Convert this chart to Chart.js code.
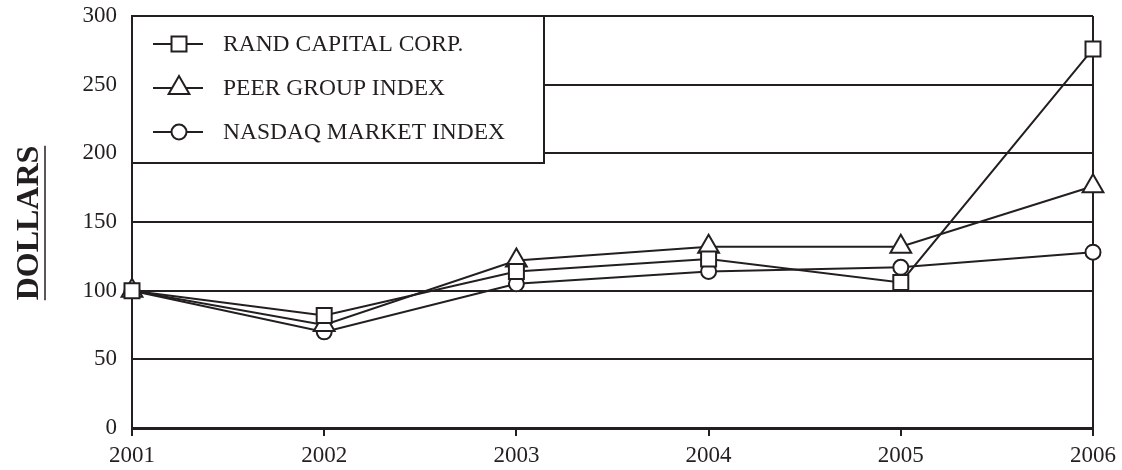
<!DOCTYPE html>
<html>
<head>
<meta charset="utf-8">
<script src="https://cdn.jsdelivr.net/npm/chart.js@4"></script>
<style>
  html, body { margin: 0; padding: 0; background: #fff; }
  #wrap { width: 1122px; height: 470px; }
</style>
</head>
<body>
<div id="wrap"><canvas id="grafico"></canvas></div>
<script>
var anos = ["2001", "2002", "2003", "2004", "2005", "2006"];
var rand = [100, 82, 114, 123, 106, 276];
var peer = [100, 75, 122, 132, 132, 176];
var nasdaq = [100, 70, 105, 114, 117, 128];
var nomes = ["RAND CAPITAL CORP.", "PEER GROUP INDEX", "NASDAQ MARKET INDEX"];

var cor = "#231f20";
var fonte = "'Liberation Serif', 'Times New Roman', serif";

// caixa da legenda e titulo do eixo y
var extras = {
  id: "extras",
  beforeDatasetsDraw: function (chart) {
    var c = chart.ctx;
    var a = chart.chartArea;
    var x0 = a.left, y0 = a.top, x1 = 544, y1 = 163;
    c.save();
    c.fillStyle = "#fff";
    c.fillRect(x0, y0, x1 - x0, y1 - y0);
    c.strokeStyle = cor;
    c.lineWidth = 2;
    c.strokeRect(x0, y0, x1 - x0, y1 - y0);

    var linhas = [44, 88, 132];
    for (var i = 0; i < chart.data.datasets.length; i++) {
      var ds = chart.data.datasets[i];
      var y = linhas[i];
      c.beginPath();
      c.moveTo(153, y);
      c.lineTo(203, y);
      c.strokeStyle = cor;
      c.lineWidth = 2;
      c.stroke();
      c.fillStyle = "#fff";
      Chart.helpers.drawPoint(c, {
        pointStyle: ds.pointStyle,
        radius: ds.pointRadius,
        borderWidth: 2
      }, 179, y);
      c.fillStyle = cor;
      c.font = "23.5px " + fonte;
      c.textBaseline = "middle";
      c.textAlign = "left";
      c.fillText(ds.label, 223, y + 1);
    }

    // DOLLARS
    c.translate(30, 223);
    c.rotate(-Math.PI / 2);
    c.font = "bold 32px " + fonte;
    c.textAlign = "center";
    c.textBaseline = "middle";
    c.fillStyle = cor;
    c.fillText("DOLLARS", 0, 0);
    var w = c.measureText("DOLLARS").width;
    c.beginPath();
    c.moveTo(-w / 2, 15);
    c.lineTo(w / 2, 15);
    c.lineWidth = 1.5;
    c.strokeStyle = cor;
    c.stroke();
    c.restore();
  }
};

function serie(nome, valores, estilo, raio) {
  return {
    label: nome,
    data: valores,
    borderColor: cor,
    borderWidth: 2,
    pointStyle: estilo,
    pointRadius: raio,
    pointHoverRadius: raio,
    pointBackgroundColor: "#fff",
    pointBorderColor: cor,
    pointBorderWidth: 2,
    tension: 0,
    fill: false
  };
}

const ctx = document.getElementById("grafico");

new Chart(ctx, {
  type: "line",
  data: {
    labels: anos,
    datasets: [
      serie(nomes[0], rand, "rect", 10.6),
      serie(nomes[1], peer, "triangle", 12),
      serie(nomes[2], nasdaq, "circle", 7.5)
    ]
  },
  options: {
    responsive: true,
    maintainAspectRatio: false,
    animation: false,
    events: [],
    layout: {
      padding: { left: 0, right: 29, top: 16, bottom: 0 }
    },
    scales: {
      x: {
        type: "category",
        offset: false,
        afterFit: function (s) { s.height = 42; },
        grid: {
          display: true,
          drawOnChartArea: true,
          color: function (c) { return c.index === anos.length - 1 ? cor : "rgba(0,0,0,0)"; },
          lineWidth: 2,
          tickColor: cor,
          tickLength: 8,
          tickWidth: 2
        },
        border: { display: true, color: cor, width: 3 },
        ticks: {
          color: cor,
          padding: 6,
          maxRotation: 0,
          font: { family: fonte, size: 23 }
        }
      },
      y: {
        min: 0,
        max: 300,
        afterFit: function (s) {
          s.width = 132;
          s.paddingTop = 0;
          s.paddingBottom = 0;
        },
        grid: {
          color: cor,
          lineWidth: 2,
          drawTicks: false
        },
        border: { display: true, color: cor, width: 2 },
        ticks: {
          stepSize: 50,
          color: cor,
          padding: 15,
          font: { family: fonte, size: 23 }
        }
      }
    },
    plugins: {
      legend: { display: false },
      tooltip: { enabled: false },
      title: { display: false }
    }
  },
  plugins: [extras]
});
</script>
</body>
</html>
